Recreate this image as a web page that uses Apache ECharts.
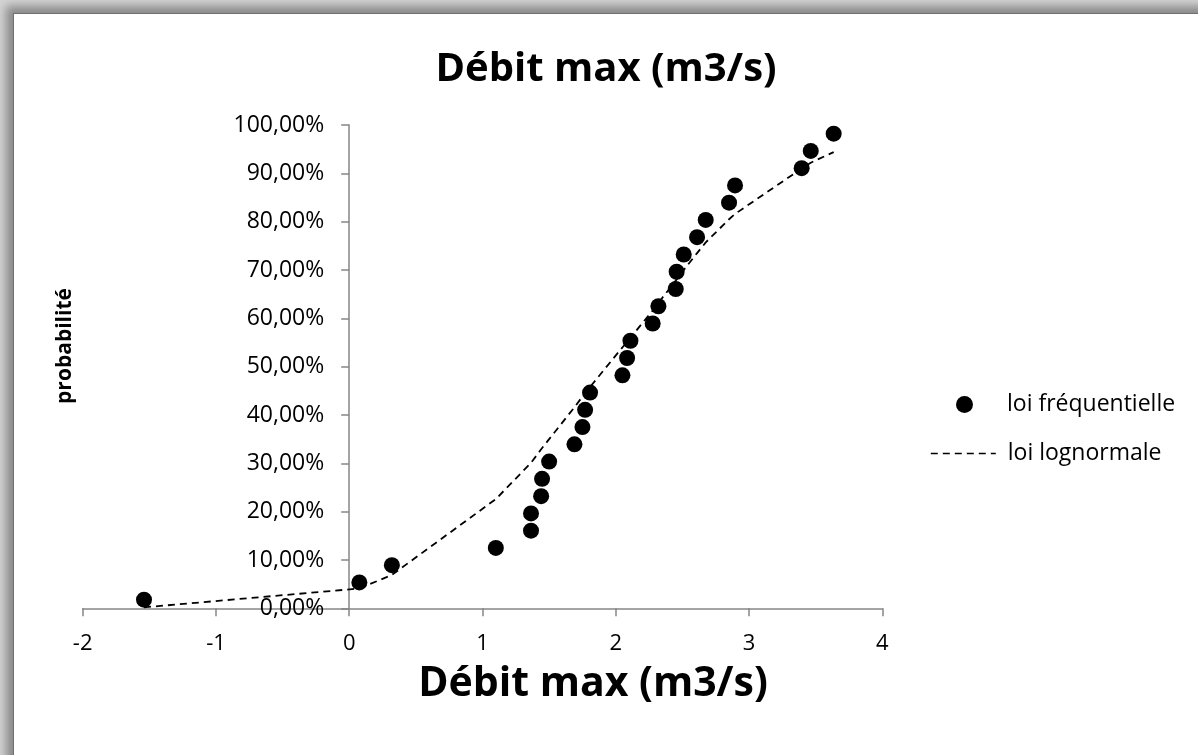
<!DOCTYPE html>
<html>
<head>
<meta charset="utf-8">
<script src="https://cdn.jsdelivr.net/npm/echarts@6/dist/echarts.min.js"></script>
<style>
  html, body { margin: 0; padding: 0; width: 1198px; height: 755px; overflow: hidden; background: #d4d4d4; }
  #frame { position: absolute; left: 13px; top: 13px; width: 1200px; height: 760px; background: #fff;
           border-left: 1px solid #707070; border-top: 1px solid #707070;
           box-shadow: -3px -3px 9px 4px #8a8a8a; }
  #chart { position: absolute; left: 0; top: 0; width: 1198px; height: 755px; }
</style>
</head>
<body>
<div id="frame"></div>
<div id="chart"></div>
<script>
// Observed points (loi fréquentielle)
const freqX = [-1.54, 0.076, 0.32, 1.10, 1.364, 1.364, 1.44, 1.447, 1.50, 1.69, 1.75, 1.77, 1.807, 2.05, 2.085, 2.11, 2.277, 2.32, 2.45, 2.457, 2.51, 2.61, 2.675, 2.85, 2.895, 3.395, 3.463, 3.635];
const freqY = [0.0179, 0.0536, 0.0893, 0.125, 0.1607, 0.1964, 0.2321, 0.2679, 0.3036, 0.3393, 0.375, 0.4107, 0.4464, 0.4821, 0.5179, 0.5536, 0.5893, 0.625, 0.6607, 0.6964, 0.7321, 0.7679, 0.8036, 0.8393, 0.875, 0.9107, 0.9464, 0.9821];
// Fitted curve (loi lognormale), evaluated at the same abscissas
const logX = [-1.54, 0.076, 0.32, 1.10, 1.364, 1.364, 1.44, 1.447, 1.50, 1.69, 1.75, 1.77, 1.807, 2.05, 2.085, 2.11, 2.277, 2.32, 2.45, 2.457, 2.51, 2.61, 2.675, 2.85, 2.895, 3.395, 3.463, 3.635];
const logY = [0.002, 0.041, 0.069, 0.226, 0.301, 0.301, 0.329, 0.331, 0.350, 0.416, 0.438, 0.445, 0.458, 0.540, 0.551, 0.560, 0.616, 0.632, 0.678, 0.680, 0.700, 0.735, 0.757, 0.805, 0.816, 0.910, 0.922, 0.944];

const titleText = 'Débit max (m3/s)';
const xTitleText = 'Débit max (m3/s)';
const yTitleText = 'probabilité';
const seriesNames = ['loi fréquentielle', 'loi lognormale'];

const FONT = '"Open Sans", "DejaVu Sans", sans-serif';
const AXIS = '#868686';
const PLOT_L = 82.7, PLOT_R = 882.3, PLOT_T = 125, PLOT_B = 608.3;
const Y_AXIS_X = 349.2;

const chart = echarts.init(document.getElementById('chart'), null, { renderer: 'canvas' });
chart.setOption({
  animation: false,
  backgroundColor: 'transparent',
  grid: { left: PLOT_L, right: 1198 - PLOT_R, top: PLOT_T, bottom: 755 - PLOT_B, containLabel: false, outerBoundsMode: 'none' },
  xAxis: {
    type: 'value', min: -2, max: 4, interval: 1,
    axisLine: { show: true, onZero: false, lineStyle: { color: AXIS, width: 1.5 } },
    axisTick: { show: true, length: 8, lineStyle: { color: AXIS, width: 1.5 } },
    axisLabel: { color: '#000', fontFamily: FONT, fontSize: 22, margin: 24 },
    splitLine: { show: false }
  },
  yAxis: {
    type: 'value', min: 0, max: 1, interval: 0.1, position: 'left', offset: -(Y_AXIS_X - PLOT_L),
    axisLine: { show: true, onZero: false, lineStyle: { color: AXIS, width: 1.5 } },
    axisTick: { show: true, length: 8, lineStyle: { color: AXIS, width: 1.5 } },
    axisLabel: { color: '#000', fontFamily: FONT, fontSize: 23, margin: 25,
      formatter: v => (v * 100).toFixed(2).replace('.', ',') + '%' },
    splitLine: { show: false }
  },
  legend: [
    { data: [{ name: seriesNames[0], icon: 'circle' }], left: 951, top: 388, itemWidth: 17, itemHeight: 17, itemGap: 0,
      textStyle: { color: '#000', fontFamily: FONT, fontSize: 23, lineHeight: 18, padding: [0, 0, 0, 29] } },
    { data: [seriesNames[1]], left: 925, top: 437, itemWidth: 65, itemHeight: 17, itemGap: 0,
      itemStyle: { opacity: 0 },
      lineStyle: { color: '#000', width: 1.6, type: [7, 5] },
      textStyle: { color: '#000', fontFamily: FONT, fontSize: 23, lineHeight: 18, padding: [0, 0, 0, 7] } }
  ],
  graphic: [
    { type: 'text', x: 606, y: 70, style: { text: titleText, fill: '#000', font: 'bold 40px ' + FONT, textAlign: 'center', textVerticalAlign: 'middle' } },
    { type: 'text', x: 593, y: 684, style: { text: xTitleText, fill: '#000', font: 'bold 41px ' + FONT, textAlign: 'center', textVerticalAlign: 'middle' } },
    { type: 'text', x: 65, y: 346, rotation: Math.PI / 2, style: { text: yTitleText, fill: '#000', font: 'bold 21px ' + FONT, textAlign: 'center', textVerticalAlign: 'middle' } }
  ],
  series: [
    { name: seriesNames[0], type: 'scatter', symbol: 'circle', symbolSize: 16,
      itemStyle: { color: '#000', opacity: 1 }, z: 3,
      data: freqX.map((x, i) => [x, freqY[i]]) },
    { name: seriesNames[1], type: 'line', symbol: 'none', showSymbol: false, smooth: false,
      lineStyle: { color: '#000', width: 1.8, type: [7, 5] }, itemStyle: { color: '#000' }, z: 2,
      data: logX.map((x, i) => [x, logY[i]]) }
  ]
});
</script>
</body>
</html>
